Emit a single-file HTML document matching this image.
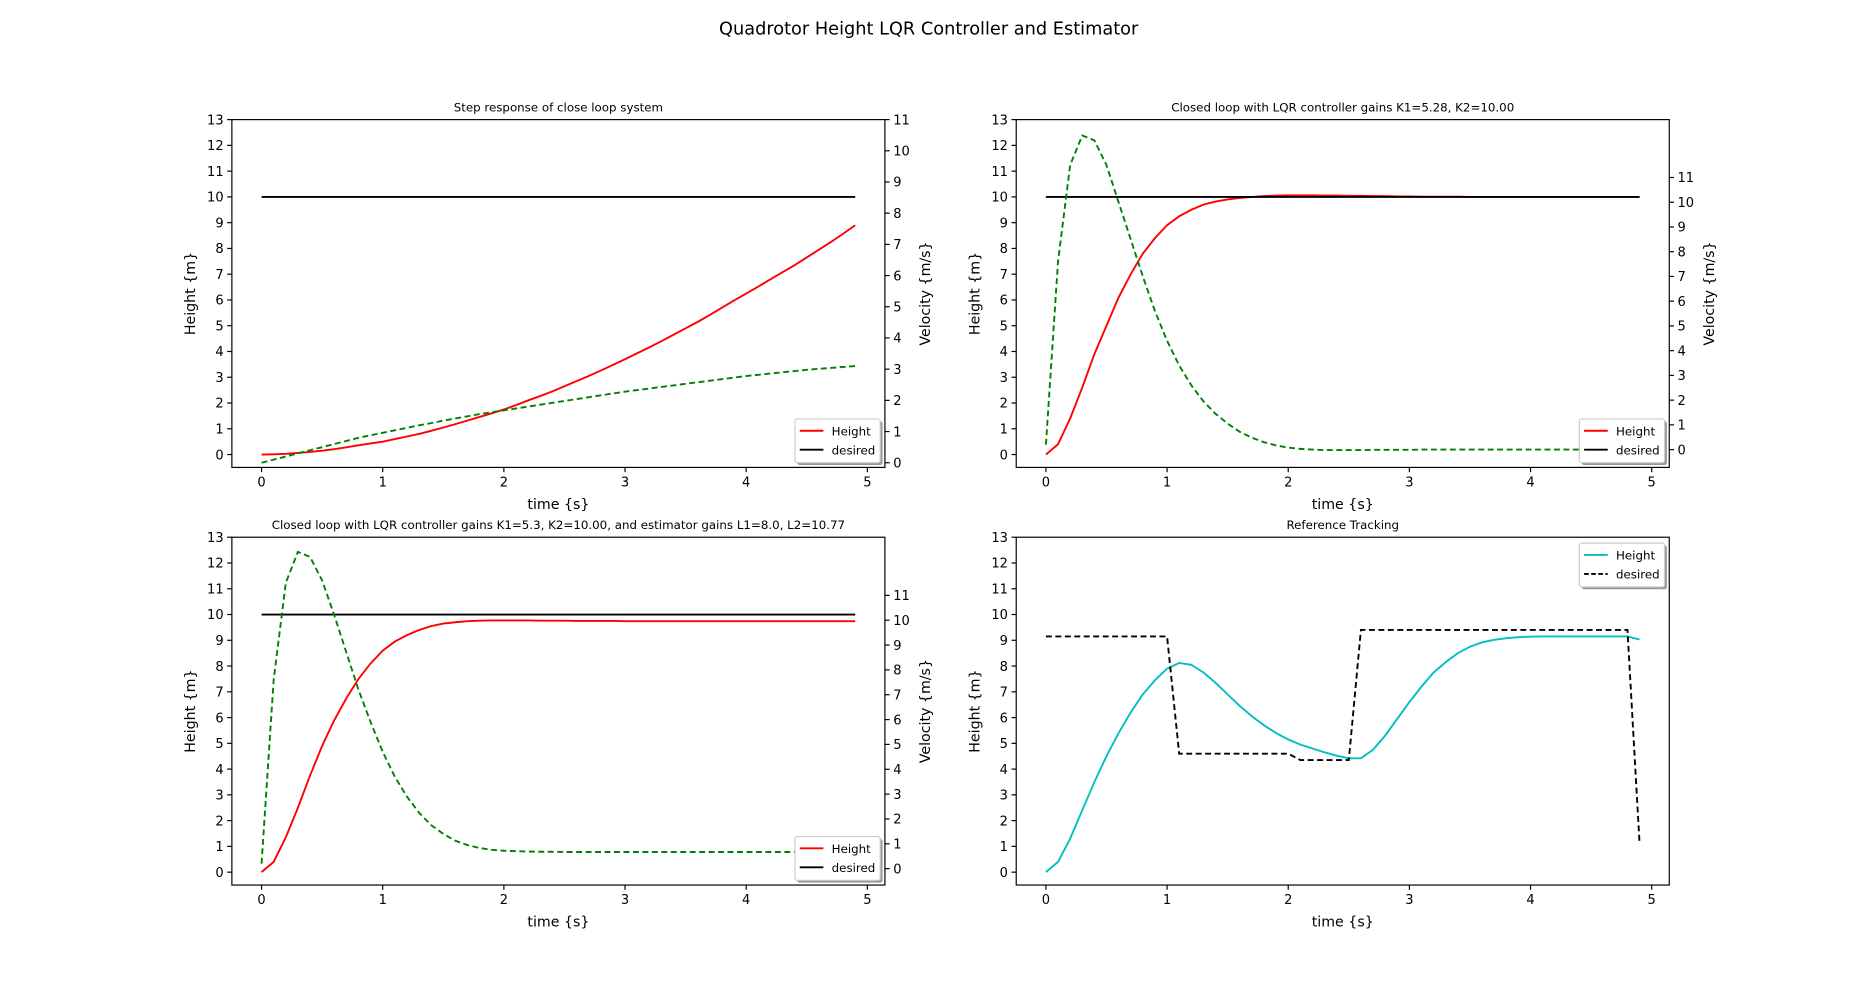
<!DOCTYPE html>
<html><head><meta charset="utf-8"><style>
html,body{margin:0;padding:0;background:#fff;}
svg{display:block;}
text{font-family:"DejaVu Sans","Liberation Sans",sans-serif;fill:#000;}
</style></head><body>
<svg id="fig" width="1855" height="994" viewBox="0 0 1568 840" xmlns="http://www.w3.org/2000/svg">
<rect width="1568" height="840" fill="#fff"/>
<text x="785" y="29" font-size="15" text-anchor="middle">Quadrotor Height LQR Controller and Estimator</text>
</svg>
<script>
const times = Array.from({length:50},(_, i)=>Math.round(i)/10);
const xTicks = [0,1,2,3,4,5];
const leftTicks = [0,1,2,3,4,5,6,7,8,9,10,11,12,13];
const rightTicks = [0,1,2,3,4,5,6,7,8,9,10,11];
const desiredConst = 10;

const p1Height = [0,0.01,0.03,0.06,0.1,0.15,0.21,0.28,0.36,0.43,0.5,0.6,0.7,0.8,0.92,1.05,1.18,1.32,1.46,1.6,1.75,1.92,2.1,2.27,2.45,2.65,2.85,3.05,3.26,3.48,3.7,3.93,4.16,4.4,4.65,4.9,5.15,5.42,5.7,5.98,6.25,6.52,6.8,7.08,7.35,7.65,7.95,8.25,8.57,8.9];
const p1Vel = [0,0.1,0.2,0.3,0.4,0.5,0.6,0.7,0.8,0.88,0.96,1.04,1.12,1.2,1.27,1.35,1.42,1.49,1.56,1.62,1.68,1.74,1.8,1.86,1.92,1.98,2.04,2.1,2.16,2.22,2.28,2.33,2.38,2.43,2.48,2.53,2.58,2.63,2.68,2.73,2.78,2.82,2.86,2.9,2.94,2.98,3.01,3.04,3.07,3.1];

const p2Height = [0,0.4,1.4,2.6,3.9,5.0,6.1,7.0,7.8,8.4,8.9,9.25,9.5,9.7,9.82,9.9,9.96,10.0,10.03,10.05,10.06,10.06,10.06,10.05,10.05,10.04,10.04,10.03,10.03,10.02,10.02,10.01,10.01,10.01,10.01,10.0,10.0,10.0,10.0,10.0,10.0,10.0,10.0,10.0,10.0,10.0,10.0,10.0,10.0,10.0];
const p2Vel = [0.2,7.6,11.5,12.7,12.5,11.5,10.0,8.5,7.0,5.6,4.4,3.4,2.6,1.95,1.45,1.05,0.72,0.48,0.3,0.17,0.08,0.03,0.0,-0.02,-0.02,-0.02,-0.02,-0.01,-0.01,-0.01,-0.01,0,0,0,0,0,0,0,0,0,0,0,0,0,0,0,0,0,0,0];

const p3Height = [0,0.4,1.35,2.5,3.75,4.9,5.9,6.75,7.5,8.1,8.6,8.95,9.2,9.4,9.55,9.65,9.7,9.74,9.76,9.77,9.77,9.77,9.77,9.76,9.76,9.76,9.75,9.75,9.75,9.75,9.74,9.74,9.74,9.74,9.74,9.74,9.74,9.74,9.74,9.74,9.74,9.74,9.74,9.74,9.74,9.74,9.74,9.74,9.74,9.74];
const p3Vel = [0.2,7.6,11.5,12.75,12.55,11.6,10.2,8.7,7.2,5.9,4.7,3.7,2.9,2.25,1.75,1.4,1.12,0.95,0.83,0.76,0.72,0.7,0.69,0.68,0.68,0.67,0.67,0.67,0.67,0.67,0.67,0.67,0.67,0.67,0.67,0.67,0.67,0.67,0.67,0.67,0.67,0.67,0.67,0.67,0.67,0.67,0.67,0.67,0.67,0.67];

const p4Height = [0,0.4,1.3,2.4,3.5,4.5,5.4,6.2,6.9,7.45,7.9,8.12,8.05,7.75,7.35,6.9,6.45,6.05,5.7,5.4,5.15,4.95,4.8,4.65,4.52,4.42,4.42,4.75,5.3,5.95,6.6,7.2,7.75,8.15,8.5,8.75,8.92,9.02,9.08,9.12,9.14,9.15,9.15,9.15,9.15,9.15,9.15,9.15,9.15,9.03];
const p4Desired = [9.15,9.15,9.15,9.15,9.15,9.15,9.15,9.15,9.15,9.15,9.15,4.6,4.6,4.6,4.6,4.6,4.6,4.6,4.6,4.6,4.6,4.35,4.35,4.35,4.35,4.35,9.4,9.4,9.4,9.4,9.4,9.4,9.4,9.4,9.4,9.4,9.4,9.4,9.4,9.4,9.4,9.4,9.4,9.4,9.4,9.4,9.4,9.4,9.4,1.1];

const NS='http://www.w3.org/2000/svg';
const fig=document.getElementById('fig');
function mk(tag,attrs,parent){const e=document.createElementNS(NS,tag);for(const k in attrs)e.setAttribute(k,attrs[k]);(parent||fig).appendChild(e);return e;}

function panel(o){
  const g=mk('g',{});
  
  
  const L=o.x0,R=o.x1,T=o.y0,B=o.y1;
  const xmin=-0.245,xmax=5.145;
  const sx=v=>L+(v-xmin)/(xmax-xmin)*(R-L);
  const sy=v=>B-(v-(-0.5))/(13.5)*(B-T);
  const sr=o.right?(v=>B-(v-o.right[0])/(o.right[1]-o.right[0])*(B-T)):null;
  const t=mk('text',{x:(L+R)/2,y:T-7,'font-size':10,'text-anchor':'middle'},g);t.textContent=o.title;
  
  
  const pts=(arr,f)=>arr.map((v,i)=>sx(times[i]).toFixed(2)+','+f(v).toFixed(2)).join(' ');
  o.series.forEach(s=>{
    const f=s.axis==='r'?sr:sy;
    const pl=mk('polyline',{points:pts(s.data,f),fill:'none',stroke:s.color,'stroke-width':1.6,'stroke-dasharray':s.dash||'none'},g);
    
    
  });
  const fr=mk('rect',{x:L,y:T,width:R-L,height:B-T,fill:'none',stroke:'#000','stroke-width':1},g);
  
  
  xTicks.forEach(v=>{
    mk('line',{x1:sx(v),x2:sx(v),y1:B,y2:B+4,stroke:'#000'},g);
    const tx=mk('text',{x:sx(v),y:B+16,'font-size':11,'text-anchor':'middle'},g);tx.textContent=v;
    
    
  });
  leftTicks.forEach(v=>{
    mk('line',{x1:L-4,x2:L,y1:sy(v),y2:sy(v),stroke:'#000'},g);
    const tx=mk('text',{x:L-7,y:sy(v)+4,'font-size':11,'text-anchor':'end'},g);tx.textContent=v;
    
    
  });
  if(sr){rightTicks.forEach(v=>{
    mk('line',{x1:R,x2:R+4,y1:sr(v),y2:sr(v),stroke:'#000'},g);
    const tx=mk('text',{x:R+7,y:sr(v)+4,'font-size':11,'text-anchor':'start'},g);tx.textContent=v;
    
    
  });
    const yl=mk('text',{x:0,y:0,'font-size':12,'text-anchor':'middle',transform:`translate(${R+38},${(T+B)/2}) rotate(-90)`},g);yl.textContent='Velocity {m/s}';
    
    
  }
  const xl=mk('text',{x:(L+R)/2,y:B+35,'font-size':12,'text-anchor':'middle'},g);xl.textContent='time {s}';
  
  
  const yl=mk('text',{x:0,y:0,'font-size':12,'text-anchor':'middle',transform:`translate(${L-31},${(T+B)/2}) rotate(-90)`},g);yl.textContent='Height {m}';
  
  
  // legend
  const lw=72,lh=37;
  const lx=R-lw-4, ly=o.legendTop?T+5:B-lh-4;
  const lg=mk('g',{},g);
  
  
  mk('rect',{x:lx+2,y:ly+2,width:lw,height:lh,fill:'#999',rx:2},lg);
  mk('rect',{x:lx,y:ly,width:lw,height:lh,fill:'#fff',stroke:'#ccc',rx:2},lg);
  o.legend.forEach((e,i)=>{
    const yy=ly+10+i*16;
    mk('line',{x1:lx+4,x2:lx+24,y1:yy,y2:yy,stroke:e.color,'stroke-width':1.6,'stroke-dasharray':e.dash||'none'},lg);
    const tx=mk('text',{x:lx+31,y:yy+4,'font-size':10},lg);tx.textContent=e.label;
    
    
  });
}
const desiredLine = times.map(()=>desiredConst);
const std=[{label:'Height',color:'#f00'},{label:'desired',color:'#000'}];
panel({name:'step-response-panel',title:'Step response of close loop system',x0:196,x1:748,y0:101,y1:395,right:[-0.15,11],
  series:[{name:'desired-line',data:desiredLine,color:'#000'},{name:'height-line',data:p1Height,color:'#f00'},{name:'velocity-line',data:p1Vel,color:'#008000',dash:'5,3',axis:'r'}],legend:std});
panel({name:'lqr-panel',title:'Closed loop with LQR controller gains K1=5.28, K2=10.00',x0:859,x1:1411,y0:101,y1:395,right:[-0.72,13.34],
  series:[{name:'height-line',data:p2Height,color:'#f00'},{name:'desired-line',data:desiredLine,color:'#000'},{name:'velocity-line',data:p2Vel,color:'#008000',dash:'5,3',axis:'r'}],legend:std});
panel({name:'estimator-panel',title:'Closed loop with LQR controller gains K1=5.3, K2=10.00, and estimator gains L1=8.0, L2=10.77',x0:196,x1:748,y0:454,y1:748,right:[-0.66,13.34],
  series:[{name:'height-line',data:p3Height,color:'#f00'},{name:'desired-line',data:desiredLine,color:'#000'},{name:'velocity-line',data:p3Vel,color:'#008000',dash:'5,3',axis:'r'}],legend:std});
panel({name:'reference-tracking-panel',title:'Reference Tracking',x0:859,x1:1411,y0:454,y1:748,right:null,legendTop:true,
  series:[{name:'height-line',data:p4Height,color:'#00bfbf'},{name:'desired-line',data:p4Desired,color:'#000',dash:'5,3'}],
  legend:[{label:'Height',color:'#00bfbf'},{label:'desired',color:'#000',dash:'4,2'}]});
</script>
</body></html>
